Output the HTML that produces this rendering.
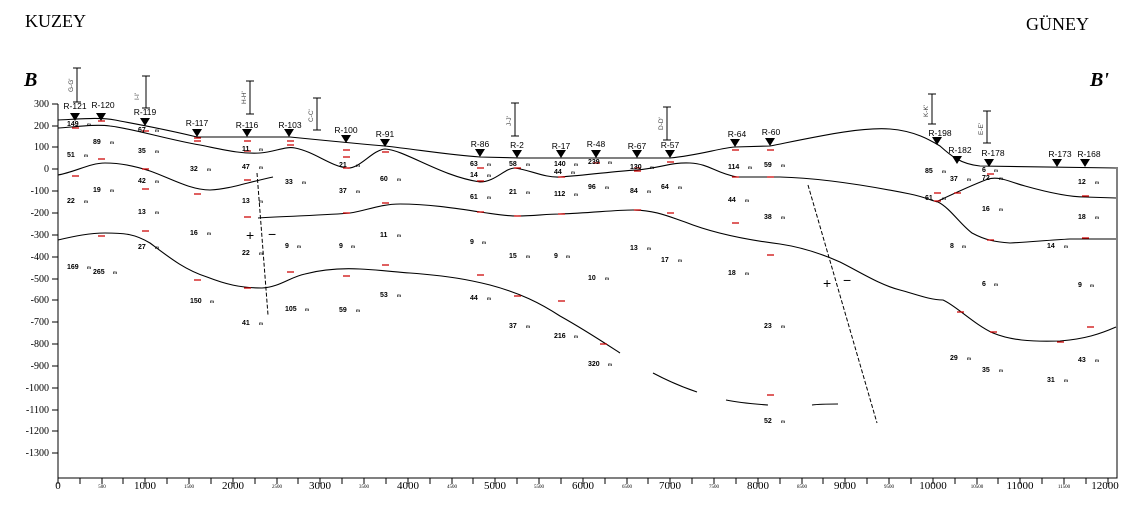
<!DOCTYPE html>
<html><head><meta charset="utf-8"><style>
html,body{margin:0;padding:0;background:#fff;}
svg{display:block;}
.yl{font-family:"Liberation Serif",serif;font-size:10px;text-anchor:end;}
.xl{font-family:"Liberation Serif",serif;font-size:11px;text-anchor:middle;}
.xs{font-family:"Liberation Serif",serif;font-size:5px;text-anchor:middle;}
.bh{font-family:"Liberation Sans",sans-serif;font-size:8.5px;text-anchor:middle;}
.n{font-family:"Liberation Sans",sans-serif;font-size:7px;font-weight:bold;}
.m{font-family:"Liberation Sans",sans-serif;font-size:4.5px;font-weight:bold;}
.sec{font-family:"Liberation Sans",sans-serif;font-size:6.5px;fill:#444;}
</style></head><body>
<svg width="1133" height="505" viewBox="0 0 1133 505" xmlns="http://www.w3.org/2000/svg">
<text x="25" y="27" font-family="Liberation Serif,serif" font-size="18">KUZEY</text>
<text x="1026" y="30" font-family="Liberation Serif,serif" font-size="18">GÜNEY</text>
<text x="24" y="86" font-family="Liberation Serif,serif" font-size="20" font-weight="bold" font-style="italic">B</text>
<text x="1090" y="86" font-family="Liberation Serif,serif" font-size="20" font-weight="bold" font-style="italic">B'</text>

<!-- axes -->
<g stroke="#000" stroke-width="1" fill="none">
<path d="M58,104 V478 H1117 V167"/>
<g id="yt">
<path d="M52,104h6M52,126h6M52,147h6M52,169h6M52,191h6M52,213h6M52,235h6M52,257h6M52,279h6M52,300h6M52,322h6M52,344h6M52,366h6M52,388h6M52,410h6M52,431h6M52,453h6"/>
</g>
<path d="M58,478v6M80,478v6M102,478v6M123,478v6M145,478v6M167,478v6M189,478v6M211,478v6M233,478v6M255,478v6M277,478v6M298,478v6M320,478v6M342,478v6M364,478v6M386,478v6M408,478v6M430,478v6M452,478v6M473,478v6M495,478v6M517,478v6M539,478v6M561,478v6M583,478v6M605,478v6M627,478v6M648,478v6M670,478v6M692,478v6M714,478v6M736,478v6M758,478v6M780,478v6M802,478v6M823,478v6M845,478v6M867,478v6M889,478v6M911,478v6M933,478v6M955,478v6M977,478v6M998,478v6M1020,478v6M1042,478v6M1064,478v6M1086,478v6M1108,478v6"/>
</g>
<g class="yl">
<text x="49" y="107">300</text><text x="49" y="129">200</text><text x="49" y="150">100</text><text x="49" y="172">0</text>
<text x="49" y="194">-100</text><text x="49" y="216">-200</text><text x="49" y="238">-300</text><text x="49" y="260">-400</text>
<text x="49" y="282">-500</text><text x="49" y="303">-600</text><text x="49" y="325">-700</text><text x="49" y="347">-800</text>
<text x="49" y="369">-900</text><text x="49" y="391">-1000</text><text x="49" y="413">-1100</text><text x="49" y="434">-1200</text><text x="49" y="456">-1300</text>
</g>
<g class="xl">
<text x="58" y="489">0</text><text x="145" y="489">1000</text><text x="233" y="489">2000</text><text x="320" y="489">3000</text>
<text x="408" y="489">4000</text><text x="495" y="489">5000</text><text x="583" y="489">6000</text><text x="670" y="489">7000</text>
<text x="758" y="489">8000</text><text x="845" y="489">9000</text><text x="933" y="489">10000</text><text x="1020" y="489">11000</text><text x="1105" y="489">12000</text>
</g>
<g class="xs">
<text x="102" y="488">500</text><text x="189" y="488">1500</text><text x="277" y="488">2500</text><text x="364" y="488">3500</text>
<text x="452" y="488">4500</text><text x="539" y="488">5500</text><text x="627" y="488">6500</text><text x="714" y="488">7500</text>
<text x="802" y="488">8500</text><text x="889" y="488">9500</text><text x="977" y="488">10500</text><text x="1064" y="488">11500</text>
</g>

<!-- geological lines -->
<g stroke="#000" stroke-width="1.1" fill="none">
<path d="M58,120 C80,119 100,117 115,120 C130,123 160,128 197,137 L290,137 C320,140 350,143 385,146 C420,150 450,155 480,157 L520,158 L670,158 C700,155 720,148 735,147 L770,146 C820,136 860,127 890,129 C915,131 930,140 940,146 C950,155 960,164 980,166 L1116,168"/>
<path d="M58,128 C75,127 95,124 110,126 C130,128 170,140 200,145 C225,150 240,154 260,153 C275,152 285,146 295,148 C315,152 330,166 347,168 C360,169 372,150 385,149 C405,150 440,176 480,182 C495,182 505,168 515,168 C530,170 545,178 560,177 C590,175 615,171 637,170 C660,168 672,162 690,163 C710,164 715,173 737,177 L780,177 C820,178 870,186 910,194 C925,197 932,201 938,202"/>
<path d="M938,201 C955,193 975,184 988,179 C1000,176 1010,182 1025,186 C1050,193 1070,197 1085,197 L1116,198"/>
<path d="M938,202 C950,208 960,224 972,233 C985,240 995,242 1010,243 C1030,242 1050,240 1070,239 L1116,239"/>
<path d="M58,175 C75,172 90,163 105,163 C120,163 135,166 150,171 C170,178 190,190 210,190 C230,189 245,183 273,177"/>
<path d="M258,218 C290,216 330,215 350,213 C365,211 380,204 400,204 C430,204 460,209 480,212 C495,214 505,216 517,216 C535,216 545,214 560,214 C590,213 615,210 633,210 C655,210 670,217 685,222 C710,232 740,239 780,244 C800,247 820,253 840,262 C860,272 880,285 900,290 C915,294 930,300 943,300 C955,305 975,325 993,333 C1010,340 1030,342 1060,341 C1085,339 1100,334 1116,327"/>
<path d="M58,240 C75,236 90,233 105,233 C125,233 135,234 150,243 C170,258 185,270 207,277 C225,284 240,288 262,288 C280,287 290,277 305,274 C320,270 340,268 360,269 C380,270 395,272 410,273 C450,276 470,280 490,285 C520,293 540,303 560,316 C585,330 600,340 620,353"/>
<path d="M653,373 C670,382 685,388 697,392"/>
<path d="M726,400 C740,403 755,404 768,405"/>
<path d="M812,405 C820,404 830,404 838,404"/>
</g>
<g stroke="#000" stroke-width="1" fill="none" stroke-dasharray="4,2">
<path d="M257,173 L268,315"/>
<path d="M808,185 L877,423"/>
</g>
<g font-family="Liberation Sans,sans-serif" font-size="14">
<text x="246" y="240">+</text><text x="268" y="239">−</text>
<text x="823" y="288">+</text><text x="843" y="285">−</text>
</g>

<!-- section markers -->
<g stroke="#000" stroke-width="1" fill="none">
<path d="M77,68V102M73,68h8M73,102h8"/>
<path d="M146,76V108M142,76h8M142,108h8"/>
<path d="M250,81V114M246,81h8M246,114h8"/>
<path d="M317,98V130M313,98h8M313,130h8"/>
<path d="M515,103V136M511,103h8M511,136h8"/>
<path d="M667,107V140M663,107h8M663,140h8"/>
<path d="M932,94V124M928,94h8M928,124h8"/>
<path d="M987,111V143M983,111h8M983,143h8"/>
</g>
<g class="sec">
<text transform="translate(73,92) rotate(-90)">G-G'</text>
<text transform="translate(139,100) rotate(-90)">I-I'</text>
<text transform="translate(246,104) rotate(-90)">H-H'</text>
<text transform="translate(313,122) rotate(-90)">C-C'</text>
<text transform="translate(511,126) rotate(-90)">J-J'</text>
<text transform="translate(663,130) rotate(-90)">D-D'</text>
<text transform="translate(928,117) rotate(-90)">K-K'</text>
<text transform="translate(983,135) rotate(-90)">E-E'</text>
</g>

<!-- boreholes -->
<g fill="#000">
<path d="M70,113h10l-5,8z"/><path d="M96,113h10l-5,8z"/><path d="M140,118h10l-5,8z"/>
<path d="M192,129h10l-5,8z"/><path d="M242,129h10l-5,8z"/><path d="M284,129h10l-5,8z"/>
<path d="M341,135h10l-5,8z"/><path d="M380,139h10l-5,8z"/><path d="M475,149h10l-5,8z"/>
<path d="M512,150h10l-5,8z"/><path d="M556,150h10l-5,8z"/><path d="M591,150h10l-5,8z"/>
<path d="M632,150h10l-5,8z"/><path d="M665,150h10l-5,8z"/><path d="M730,139h10l-5,8z"/>
<path d="M765,138h10l-5,8z"/><path d="M932,137h10l-5,8z"/><path d="M952,156h10l-5,8z"/>
<path d="M984,159h10l-5,8z"/><path d="M1052,159h10l-5,8z"/><path d="M1080,159h10l-5,8z"/>
</g>
<g class="bh">
<text x="75" y="109">R-121</text><text x="103" y="108">R-120</text><text x="145" y="115">R-119</text>
<text x="197" y="126">R-117</text><text x="247" y="128">R-116</text><text x="290" y="128">R-103</text>
<text x="346" y="133">R-100</text><text x="385" y="137">R-91</text><text x="480" y="147">R-86</text>
<text x="517" y="148">R-2</text><text x="561" y="149">R-17</text><text x="596" y="147">R-48</text>
<text x="637" y="149">R-67</text><text x="670" y="148">R-57</text><text x="737" y="137">R-64</text>
<text x="771" y="135">R-60</text><text x="940" y="136">R-198</text><text x="960" y="153">R-182</text>
<text x="993" y="156">R-178</text><text x="1060" y="157">R-173</text><text x="1089" y="157">R-168</text>
</g>

<!-- red markers -->
<g stroke="#c00" stroke-width="1.2">
<path d="M72,128h7M72,176h7M98,121h7M98,159h7M98,236h7M142,131h7M142,169h7M142,189h7M142,231h7
M194,138h7M194,141h7M194,194h7M194,280h7M244,141h7M244,151h7M244,180h7M244,217h7M244,288h7
M287,141h7M287,145h7M287,272h7M343,150h7M343,157h7M343,168h7M343,213h7M343,276h7
M382,152h7M382,203h7M382,265h7M477,168h7M477,181h7M477,212h7M477,275h7
M514,168h7M514,216h7M514,296h7M558,177h7M558,214h7M558,301h7M593,163h7M600,344h7
M634,168h7M634,171h7M634,210h7M667,162h7M667,213h7M732,150h7M732,177h7M732,223h7
M767,150h7M767,177h7M767,255h7M767,395h7M934,193h7M934,201h7M954,193h7M987,174h7M987,240h7
M957,312h7M990,332h7M1057,342h7M1087,327h7M1082,196h7M1082,238h7"/>
</g>

<!-- thickness labels -->
<g class="n">
<text x="67" y="126">149</text><text x="93" y="144">89</text><text x="138" y="132">67</text>
<text x="67" y="157">51</text><text x="138" y="153">35</text><text x="190" y="171">32</text>
<text x="242" y="151">11</text><text x="242" y="169">47</text><text x="339" y="167">21</text>
<text x="285" y="184">33</text><text x="339" y="193">37</text><text x="380" y="181">60</text>
<text x="138" y="183">42</text><text x="93" y="192">19</text><text x="67" y="203">22</text>
<text x="138" y="214">13</text><text x="190" y="235">16</text><text x="242" y="203">13</text>
<text x="242" y="255">22</text><text x="285" y="248">9</text><text x="339" y="248">9</text>
<text x="380" y="237">11</text><text x="138" y="249">27</text><text x="67" y="269">169</text>
<text x="93" y="274">265</text><text x="190" y="303">150</text><text x="242" y="325">41</text>
<text x="285" y="311">105</text><text x="339" y="312">59</text><text x="380" y="297">53</text>
<text x="470" y="166">63</text><text x="470" y="177">14</text><text x="470" y="199">61</text>
<text x="509" y="166">58</text><text x="509" y="194">21</text><text x="509" y="258">15</text>
<text x="470" y="244">9</text><text x="470" y="300">44</text><text x="509" y="328">37</text>
<text x="554" y="166">140</text><text x="554" y="174">44</text><text x="554" y="196">112</text>
<text x="554" y="258">9</text><text x="554" y="338">216</text><text x="588" y="164">239</text>
<text x="588" y="189">96</text><text x="588" y="280">10</text><text x="588" y="366">320</text>
<text x="630" y="169">130</text><text x="630" y="193">84</text><text x="630" y="250">13</text>
<text x="661" y="189">64</text><text x="661" y="262">17</text><text x="728" y="169">114</text>
<text x="728" y="202">44</text><text x="728" y="275">18</text><text x="764" y="167">59</text>
<text x="764" y="219">38</text><text x="764" y="328">23</text><text x="764" y="423">52</text>
<text x="925" y="173">85</text><text x="950" y="181">37</text><text x="925" y="200">61</text>
<text x="982" y="172">6</text><text x="982" y="180">72</text><text x="982" y="211">16</text>
<text x="950" y="248">8</text><text x="982" y="286">6</text><text x="950" y="360">29</text>
<text x="982" y="372">35</text><text x="1047" y="248">14</text><text x="1047" y="382">31</text>
<text x="1078" y="184">12</text><text x="1078" y="219">18</text><text x="1078" y="287">9</text>
<text x="1078" y="362">43</text>
</g>
<g class="m">
<text x="87" y="126">m</text><text x="110" y="144">m</text><text x="155" y="132">m</text>
<text x="84" y="157">m</text><text x="155" y="153">m</text><text x="207" y="171">m</text>
<text x="259" y="151">m</text><text x="259" y="169">m</text><text x="356" y="167">m</text>
<text x="302" y="184">m</text><text x="356" y="193">m</text><text x="397" y="181">m</text>
<text x="155" y="183">m</text><text x="110" y="192">m</text><text x="84" y="203">m</text>
<text x="155" y="214">m</text><text x="207" y="235">m</text><text x="259" y="203">m</text>
<text x="259" y="255">m</text><text x="297" y="248">m</text><text x="351" y="248">m</text>
<text x="397" y="237">m</text><text x="155" y="249">m</text><text x="87" y="269">m</text>
<text x="113" y="274">m</text><text x="210" y="303">m</text><text x="259" y="325">m</text>
<text x="305" y="311">m</text><text x="356" y="312">m</text><text x="397" y="297">m</text>
<text x="487" y="166">m</text><text x="487" y="177">m</text><text x="487" y="199">m</text>
<text x="526" y="166">m</text><text x="526" y="194">m</text><text x="526" y="258">m</text>
<text x="482" y="244">m</text><text x="487" y="300">m</text><text x="526" y="328">m</text>
<text x="574" y="166">m</text><text x="571" y="174">m</text><text x="574" y="196">m</text>
<text x="566" y="258">m</text><text x="574" y="338">m</text><text x="608" y="164">m</text>
<text x="605" y="189">m</text><text x="605" y="280">m</text><text x="608" y="366">m</text>
<text x="650" y="169">m</text><text x="647" y="193">m</text><text x="647" y="250">m</text>
<text x="678" y="189">m</text><text x="678" y="262">m</text><text x="748" y="169">m</text>
<text x="745" y="202">m</text><text x="745" y="275">m</text><text x="781" y="167">m</text>
<text x="781" y="219">m</text><text x="781" y="328">m</text><text x="781" y="423">m</text>
<text x="942" y="173">m</text><text x="967" y="181">m</text><text x="942" y="200">m</text>
<text x="994" y="172">m</text><text x="999" y="180">m</text><text x="999" y="211">m</text>
<text x="962" y="248">m</text><text x="994" y="286">m</text><text x="967" y="360">m</text>
<text x="999" y="372">m</text><text x="1064" y="248">m</text><text x="1064" y="382">m</text>
<text x="1095" y="184">m</text><text x="1095" y="219">m</text><text x="1090" y="287">m</text>
<text x="1095" y="362">m</text>
</g>
</svg>
</body></html>
